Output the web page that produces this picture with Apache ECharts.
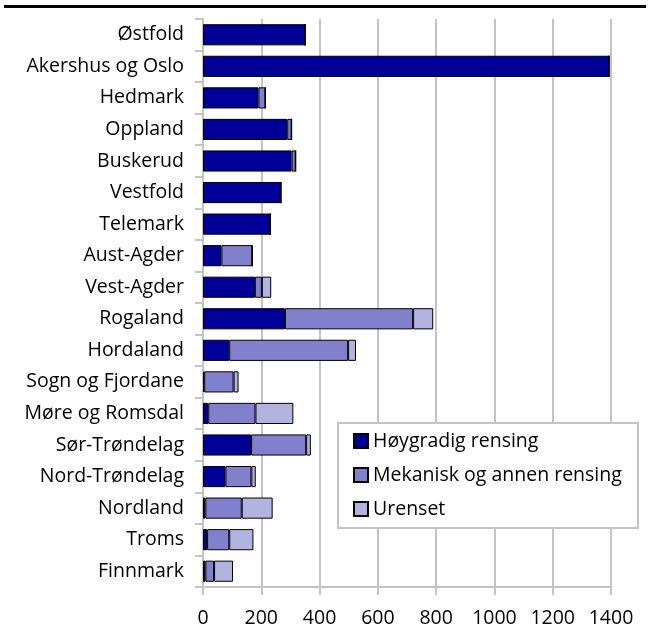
<!DOCTYPE html>
<html>
<head>
<meta charset="utf-8">
<script src="https://cdn.jsdelivr.net/npm/echarts@6/dist/echarts.min.js"></script>
<style>
  html, body { margin: 0; padding: 0; background: #fff; }
  #chart { width: 650px; height: 633px; }
</style>
</head>
<body>
<div id="chart"></div>
<script>
const categories = ['Østfold', 'Akershus og Oslo', 'Hedmark', 'Oppland', 'Buskerud', 'Vestfold',
  'Telemark', 'Aust-Agder', 'Vest-Agder', 'Rogaland', 'Hordaland', 'Sogn og Fjordane',
  'Møre og Romsdal', 'Sør-Trøndelag', 'Nord-Trøndelag', 'Nordland', 'Troms', 'Finnmark'];
const hoygradig = [350, 1393, 190, 289, 304, 267, 231, 63, 178, 281, 90, 4, 18, 165, 77, 8, 14, 8];
const mekanisk = [0, 0, 24, 15, 14, 0, 0, 106, 24, 440, 408, 101, 162, 189, 89, 125, 76, 30];
const urenset = [0, 0, 0, 0, 0, 0, 0, 0, 32, 69, 27, 17, 130, 16, 15, 106, 83, 65];
const seriesNames = ['Høygradig rensing', 'Mekanisk og annen rensing', 'Urenset'];
const xTicks = [0, 200, 400, 600, 800, 1000, 1200, 1400];

const font = 'Open Sans';
const fs = 19.5;
const gray = '#c4c4c4';
const chart = echarts.init(document.getElementById('chart'));

const mk = (name, data, color) => ({
  name: name,
  type: 'bar',
  stack: 'all',
  barWidth: '67%',
  data: data,
  itemStyle: { color: color, borderColor: '#000', borderWidth: 1 },
  emphasis: { disabled: true }
});

const option = {
  animation: false,
  textStyle: { fontFamily: font },
  grid: { left: 203, right: 39, top: 19, bottom: 46 },
  xAxis: {
    type: 'value',
    min: xTicks[0],
    max: xTicks[xTicks.length - 1],
    interval: 200,
    axisLine: { show: true, lineStyle: { color: gray, width: 2 } },
    axisTick: { show: true, length: 8, lineStyle: { color: gray, width: 2 } },
    splitLine: { show: true, lineStyle: { color: gray, width: 2 } },
    axisLabel: { color: '#000', fontSize: fs, fontFamily: font, margin: 21, formatter: v => String(v) }
  },
  yAxis: {
    type: 'category',
    inverse: true,
    data: categories,
    axisLine: { show: true, lineStyle: { color: gray, width: 2 } },
    axisTick: { show: true, length: 8, lineStyle: { color: gray, width: 2 } },
    axisLabel: { color: '#000', fontSize: fs, fontFamily: font, margin: 19 }
  },
  legend: {
    orient: 'vertical',
    left: 353,
    top: 430,
    padding: 0,
    itemWidth: 14,
    itemHeight: 14,
    itemGap: 12,
    icon: 'rect',
    textStyle: { color: '#000', fontSize: fs, fontFamily: font, lineHeight: 22 },
    data: seriesNames
  },
  graphic: [
    {
      type: 'line', z: 10,
      shape: { x1: 4, y1: 6.5, x2: 646, y2: 6.5 },
      style: { stroke: '#000', lineWidth: 3 }
    },
    {
      type: 'rect', z: 1,
      shape: { x: 338, y: 423, width: 300, height: 105 },
      style: { fill: '#fff', stroke: gray, lineWidth: 2 }
    }
  ],
  series: [
    mk(seriesNames[0], hoygradig, '#000099'),
    mk(seriesNames[1], mekanisk, '#8080cc'),
    mk(seriesNames[2], urenset, '#b3b3e0')
  ]
};
option && chart.setOption(option);
</script>
</body>
</html>
